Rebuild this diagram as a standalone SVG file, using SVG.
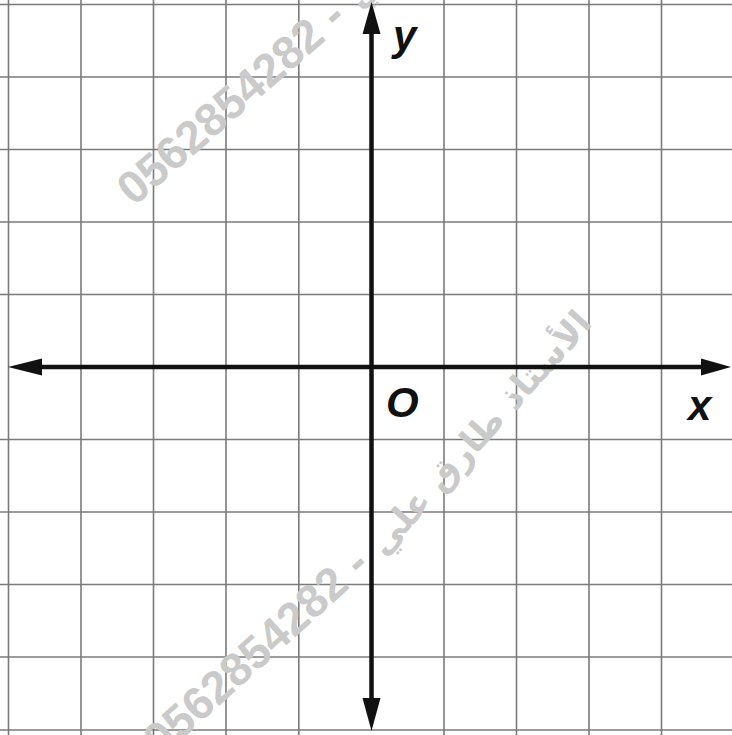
<svg xmlns="http://www.w3.org/2000/svg" width="732" height="735" viewBox="0 0 732 735">
<style>
.grid line{stroke:#7a7a7a;stroke-width:1.6}
.axis{stroke:#111;stroke-width:4.5;fill:none}
.head{fill:#111}
.lbl{font-family:"Liberation Sans",Arial,sans-serif;font-weight:bold;font-style:italic;font-size:42px;fill:#111}
.wm{font-family:"Liberation Sans","DejaVu Sans",sans-serif;font-weight:bold;font-size:46px;fill:#cacaca}
.wma{font-family:"DejaVu Sans",sans-serif;font-weight:bold;font-size:35px;fill:#cacaca}
</style>
<rect width="732" height="735" fill="#fff"/>
<g id="grid" class="grid">
<line x1="8.5" y1="0" x2="8.5" y2="735"/>
<line x1="81" y1="0" x2="81" y2="735"/>
<line x1="153.5" y1="0" x2="153.5" y2="735"/>
<line x1="226" y1="0" x2="226" y2="735"/>
<line x1="298.8" y1="0" x2="298.8" y2="735"/>
<line x1="444" y1="0" x2="444" y2="735"/>
<line x1="516.5" y1="0" x2="516.5" y2="735"/>
<line x1="589" y1="0" x2="589" y2="735"/>
<line x1="661.5" y1="0" x2="661.5" y2="735"/>
<line x1="0" y1="4.5" x2="732" y2="4.5"/>
<line x1="0" y1="77" x2="732" y2="77"/>
<line x1="0" y1="149.5" x2="732" y2="149.5"/>
<line x1="0" y1="222" x2="732" y2="222"/>
<line x1="0" y1="294.5" x2="732" y2="294.5"/>
<line x1="0" y1="439.5" x2="732" y2="439.5"/>
<line x1="0" y1="512" x2="732" y2="512"/>
<line x1="0" y1="584.5" x2="732" y2="584.5"/>
<line x1="0" y1="657" x2="732" y2="657"/>
<line x1="0" y1="730" x2="732" y2="730"/>
</g>
<g id="watermarks">
<g transform="translate(134,207) rotate(-41)">
<text class="wm" x="0" y="0">0562854282 - </text>
<text class="wma" x="300" y="0" transform="rotate(-6 300 0)">الأستاذ طارق علي</text>
</g>
<g transform="translate(161,758) rotate(-42)">
<text class="wm" x="0" y="0">0562854282 - </text>
<text class="wma" x="300" y="0" transform="rotate(-6 300 0)">الأستاذ طارق علي</text>
</g>
</g>
<g id="connectors">
<line class="axis" x1="30" y1="367" x2="712" y2="367"/>
<line class="axis" x1="371.5" y1="25" x2="371.5" y2="710"/>
<polygon class="head" points="8,367 42,358.5 42,375.5"/>
<polygon class="head" points="731,367 701,358.5 701,375.5"/>
<polygon class="head" points="371.5,2 362.5,34 380.5,34"/>
<polygon class="head" points="371.5,731 362.5,698 380.5,698"/>
</g>
<g id="label-y"><text class="lbl" x="393" y="50">y</text></g>
<g id="label-O"><text class="lbl" x="386" y="417">O</text></g>
<g id="label-x"><text class="lbl" x="688" y="420">x</text></g>
</svg>
